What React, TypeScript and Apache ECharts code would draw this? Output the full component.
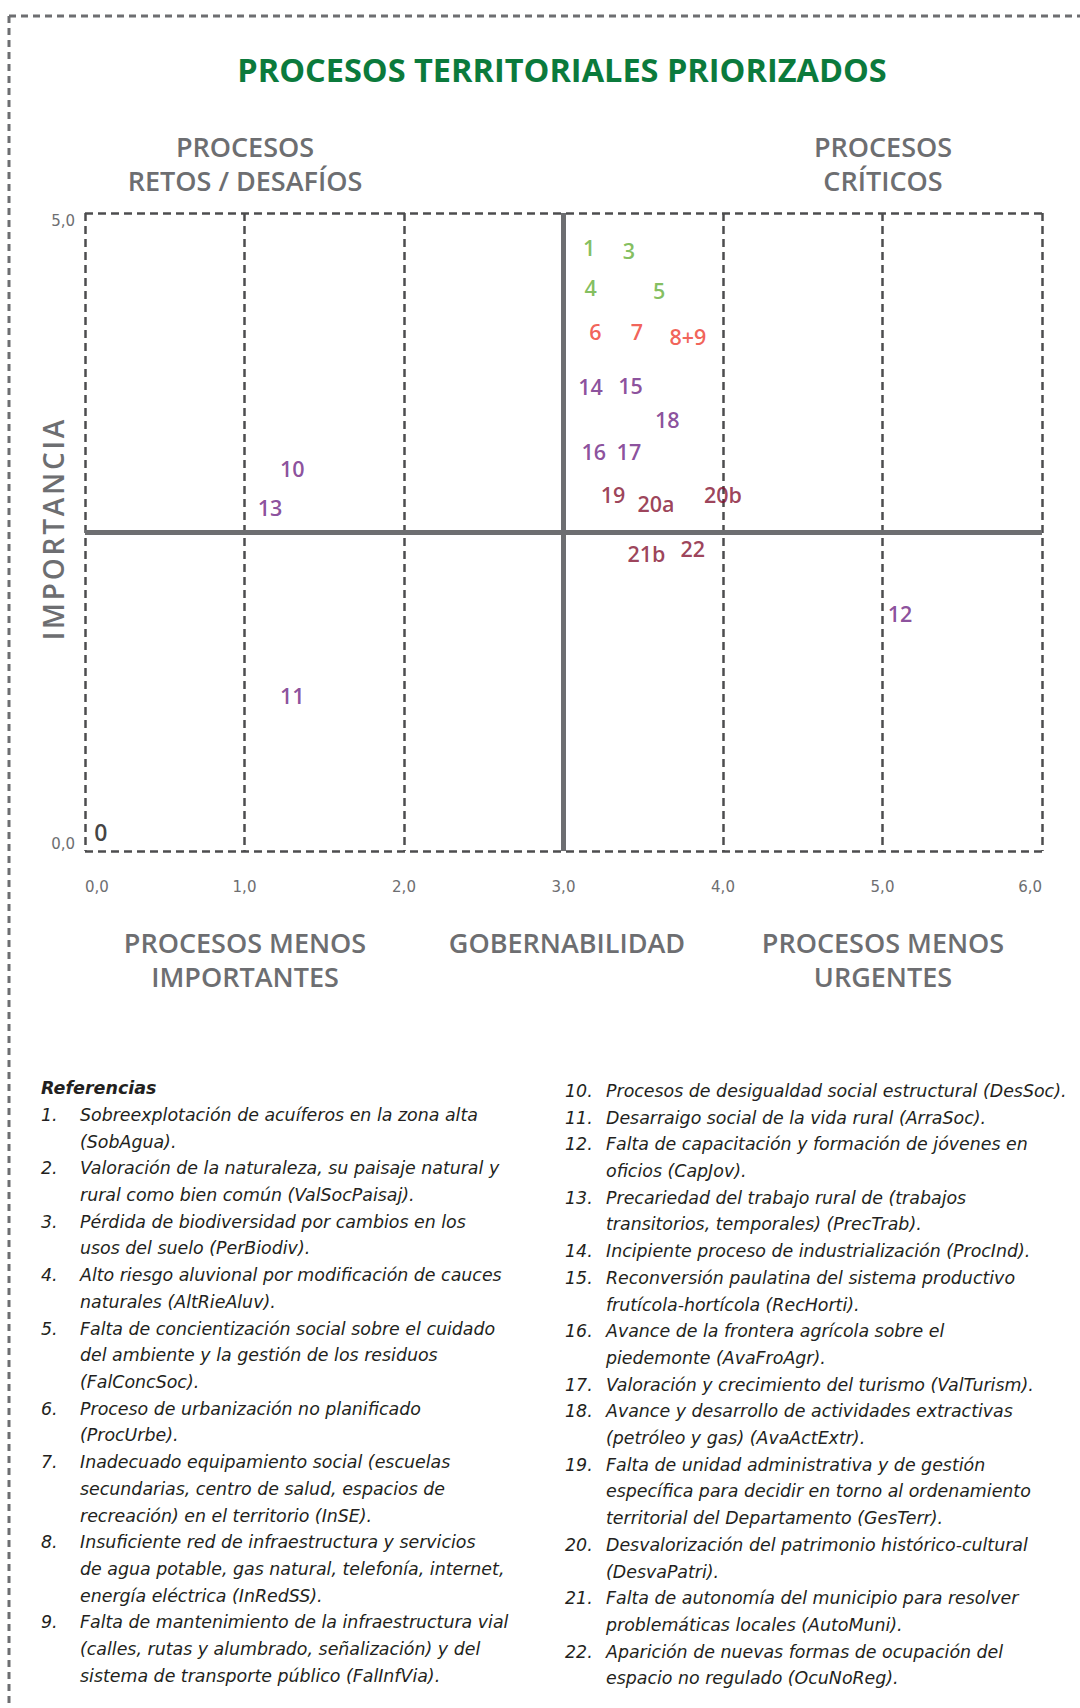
import React, { useEffect, useRef } from 'react';
import * as echarts from 'echarts';

// ---------- texts ----------
const titulo = 'PROCESOS TERRITORIALES PRIORIZADOS';
const ejeY = 'IMPORTANCIA';
const ejeX = 'GOBERNABILIDAD';
const cuadranteSupIzq = 'PROCESOS\nRETOS / DESAFÍOS';
const cuadranteSupDer = 'PROCESOS\nCRÍTICOS';
const cuadranteInfIzq = 'PROCESOS MENOS\nIMPORTANTES';
const cuadranteInfDer = 'PROCESOS MENOS\nURGENTES';
const referenciasTitulo = 'Referencias';

// ---------- data ----------
const pointLabels = ['1', '3', '4', '5', '6', '7', '8+9', '14', '15', '18', '16', '17', '19', '20a', '20b', '21b', '22', '12', '10', '13', '11', '0'];
const gobernabilidad = [3.16, 3.41, 3.17, 3.60, 3.20, 3.46, 3.78, 3.17, 3.42, 3.65, 3.19, 3.41, 3.31, 3.58, 4.00, 3.52, 3.81, 5.11, 1.30, 1.16, 1.30, 0.10];
const importancia = [4.73, 4.71, 4.42, 4.39, 4.07, 4.07, 4.03, 3.64, 3.65, 3.38, 3.13, 3.13, 2.79, 2.72, 2.79, 2.33, 2.37, 1.86, 3.00, 2.69, 1.22, 0.15];
const pointGroups = ['verde', 'verde', 'verde', 'verde', 'rojo', 'rojo', 'rojo', 'violeta', 'violeta', 'violeta', 'violeta', 'violeta', 'bordo', 'bordo', 'bordo', 'bordo', 'bordo', 'violeta', 'violeta', 'violeta', 'violeta', 'negro'];
const groupColors: Record<string, string> = {
  verde: '#64ae35',
  rojo: '#ee3a2e',
  violeta: '#6e2483',
  bordo: '#84112f',
  negro: '#111111',
};
const umbralGobernabilidad = 3;
const umbralImportancia = 2.5;

const referenciasIzqNum = ['1.', '2.', '3.', '4.', '5.', '6.', '7.', '8.', '9.'];
const referenciasIzqTxt = [
  'Sobreexplotación de acuíferos en la zona alta\n(SobAgua).',
  'Valoración de la naturaleza, su paisaje natural y\nrural como bien común (ValSocPaisaj).',
  'Pérdida de biodiversidad por cambios en los\nusos del suelo (PerBiodiv).',
  'Alto riesgo aluvional por modificación de cauces\nnaturales (AltRieAluv).',
  'Falta de concientización social sobre el cuidado\ndel ambiente y la gestión de los residuos\n(FalConcSoc).',
  'Proceso de urbanización no planificado\n(ProcUrbe).',
  'Inadecuado equipamiento social (escuelas\nsecundarias, centro de salud, espacios de\nrecreación) en el territorio (InSE).',
  'Insuficiente red de infraestructura y servicios\nde agua potable, gas natural, telefonía, internet,\nenergía eléctrica (InRedSS).',
  'Falta de mantenimiento de la infraestructura vial\n(calles, rutas y alumbrado, señalización) y del\nsistema de transporte público (FalInfVia).',
];
const referenciasDerNum = ['10.', '11.', '12.', '13.', '14.', '15.', '16.', '17.', '18.', '19.', '20.', '21.', '22.'];
const referenciasDerTxt = [
  'Procesos de desigualdad social estructural (DesSoc).',
  'Desarraigo social de la vida rural (ArraSoc).',
  'Falta de capacitación y formación de jóvenes en\noficios (CapJov).',
  'Precariedad del trabajo rural de (trabajos\ntransitorios, temporales) (PrecTrab).',
  'Incipiente proceso de industrialización (ProcInd).',
  'Reconversión paulatina del sistema productivo\nfrutícola-hortícola (RecHorti).',
  'Avance de la frontera agrícola sobre el\npiedemonte (AvaFroAgr).',
  'Valoración y crecimiento del turismo (ValTurism).',
  'Avance y desarrollo de actividades extractivas\n(petróleo y gas) (AvaActExtr).',
  'Falta de unidad administrativa y de gestión\nespecífica para decidir en torno al ordenamiento\nterritorial del Departamento (GesTerr).',
  'Desvalorización del patrimonio histórico-cultural\n(DesvaPatri).',
  'Falta de autonomía del municipio para resolver\nproblemáticas locales (AutoMuni).',
  'Aparición de nuevas formas de ocupación del\nespacio no regulado (OcuNoReg).',
];

// ---------- styles ----------
const GRAY = '#6d6e71';
const DARK = '#4d4d4f';
const LABEL_FONT = 'DejaVu Sans';
const HEAD_FONT = 'Open Sans';
const LEGEND_FONT = 'DejaVu Sans';
const LH = 26.7;

function txt(x: number, y: number, text: string, s: any, extra: any = {}) {
  return {
    type: 'text',
    x,
    y,
    silent: true,
    ...extra,
    style: {
      text,
      fill: s.fill || GRAY,
      fontSize: s.fontSize || 24,
      fontFamily: s.fontFamily || HEAD_FONT,
      fontWeight: s.fontWeight || 'normal',
      fontStyle: s.fontStyle || 'normal',
      align: s.align || 'center',
      textAlign: s.align || 'center',
      verticalAlign: s.verticalAlign || 'middle',
      textVerticalAlign: s.verticalAlign || 'middle',
      lineHeight: s.lineHeight,
    },
  };
}

function legendColumn(nums: string[], texts: string[], xNum: number, xTxt: number, yFirst: number) {
  const els: any[] = [];
  let y = yFirst - LH / 2;
  nums.forEach((n, i) => {
    const lines = texts[i].split('\n').length;
    const common = {
      fill: '#231f20',
      fontSize: 17.4,
      fontFamily: LEGEND_FONT,
      fontStyle: 'italic',
      align: 'left',
      verticalAlign: 'top',
      lineHeight: LH,
    };
    els.push(txt(xNum, y, n, common));
    els.push(txt(xTxt, y, texts[i], common));
    y += lines * LH;
  });
  return els;
}

export default function App() {
  const ref = useRef<HTMLDivElement>(null);

  useEffect(() => {
    if (!ref.current) return;
    const chart = echarts.init(ref.current, undefined, { renderer: 'svg' });

    const data = pointLabels.map((name, i) => ({
      name,
      value: [gobernabilidad[i], importancia[i]],
      label: {
        color: groupColors[pointGroups[i]],
        fontSize: pointGroups[i] === 'negro' ? 23 : 21.5,
      },
    }));

    const head = { fontSize: 27, fontWeight: 600, lineHeight: 34 };

    const graphic: any[] = [
      // outer dashed frame (top + left)
      {
        type: 'line', silent: true,
        shape: { x1: 9, y1: 16, x2: 1080, y2: 16 },
        style: { stroke: GRAY, lineWidth: 3, lineDash: [7, 5] },
      },
      {
        type: 'line', silent: true,
        shape: { x1: 9, y1: 16, x2: 9, y2: 1708 },
        style: { stroke: GRAY, lineWidth: 3, lineDash: [7, 5] },
      },
      txt(562, 69, titulo, { fill: '#0b7a3c', fontSize: 32.5, fontWeight: 'bold' }),
      txt(245, 163, cuadranteSupIzq, head),
      txt(883, 163, cuadranteSupDer, head),
      txt(245, 959, cuadranteInfIzq, head),
      txt(567, 942, ejeX, head),
      txt(883, 959, cuadranteInfDer, head),
      txt(53, 530, ejeY.split('').join('\u200A'), { fontSize: 28, fontWeight: 600 }, { rotation: Math.PI / 2 }),
      txt(41, 1088, referenciasTitulo, {
        fill: '#231f20', fontSize: 17.5, fontFamily: LEGEND_FONT, fontStyle: 'italic', fontWeight: 'bold', align: 'left',
      }),
      ...legendColumn(referenciasIzqNum, referenciasIzqTxt, 41, 80, 1115),
      ...legendColumn(referenciasDerNum, referenciasDerTxt, 565, 606, 1091),
    ];

    const dashed = { type: [8, 5] as any, color: DARK, width: 2.5 };

    chart.setOption({
      animation: false,
      backgroundColor: '#ffffff',
      grid: { left: 85, right: 38, top: 213, bottom: 857, containLabel: false },
      xAxis: {
        type: 'value',
        min: 0,
        max: 6,
        interval: 1,
        axisLine: { show: false },
        axisTick: { show: false },
        splitLine: { show: true, lineStyle: dashed },
        axisLabel: {
          margin: 28,
          color: GRAY,
          fontSize: 15,
          fontFamily: LABEL_FONT,
          alignMinLabel: 'left',
          alignMaxLabel: 'right',
          formatter: (v: number) => v.toFixed(1).replace('.', ','),
        },
      },
      yAxis: {
        type: 'value',
        min: 0,
        max: 5,
        interval: 5,
        axisLine: { show: false },
        axisTick: { show: false },
        splitLine: { show: true, lineStyle: dashed },
        axisLabel: {
          margin: 10,
          color: GRAY,
          fontSize: 15,
          fontFamily: LABEL_FONT,
          verticalAlignMinLabel: 'bottom',
          verticalAlignMaxLabel: 'top',
          formatter: (v: number) => v.toFixed(1).replace('.', ','),
        },
      },
      graphic,
      series: [
        {
          type: 'scatter',
          symbolSize: 1,
          itemStyle: { color: 'rgba(0,0,0,0)' },
          silent: true,
          data,
          label: {
            show: true,
            position: 'inside',
            fontFamily: HEAD_FONT,
            fontWeight: 600,
            formatter: (p: any) => p.name,
          },
          markLine: {
            silent: true,
            symbol: ['none', 'none'],
            label: { show: false },
            lineStyle: { type: 'solid', width: 5, color: GRAY },
            data: [{ xAxis: umbralGobernabilidad }, { yAxis: umbralImportancia }],
          },
          z: 3,
        },
      ],
    });

    return () => chart.dispose();
  }, []);

  return (
    <div
      ref={ref}
      style={{ position: 'absolute', left: 0, top: 0, width: 1080, height: 1708, background: '#fff' }}
    />
  );
}
